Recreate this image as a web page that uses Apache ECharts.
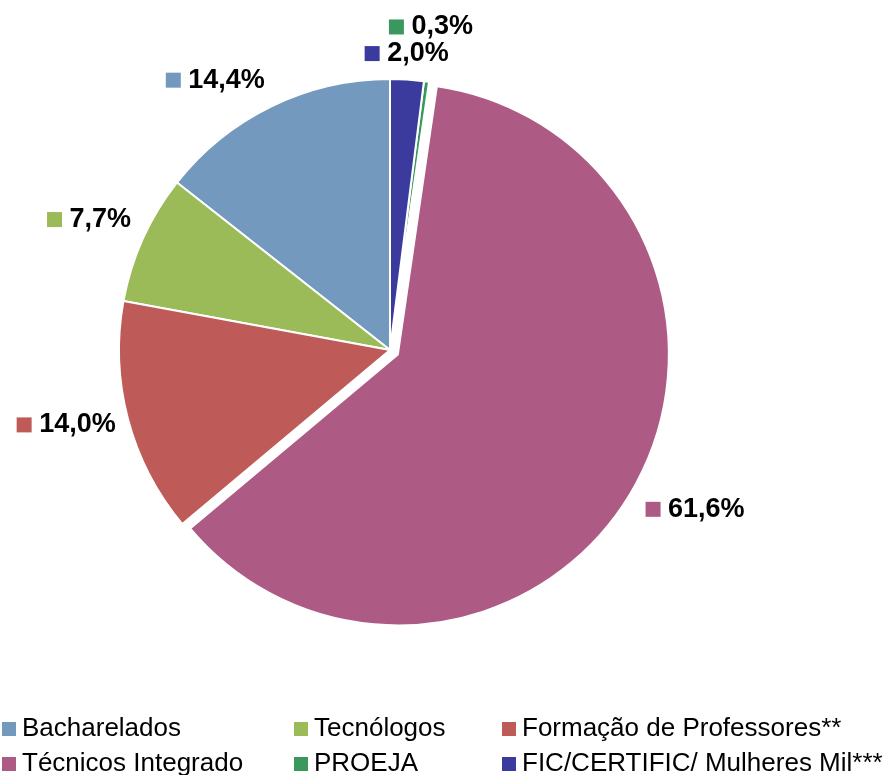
<!DOCTYPE html>
<html>
<head>
<meta charset="UTF-8">
<title>Matrículas por tipo de curso</title>
<script src="https://cdn.jsdelivr.net/npm/echarts@6/dist/echarts.min.js"></script>
<style>
  html, body { margin: 0; padding: 0; background: #fff; }
  #main { width: 882px; height: 775px; }
</style>
</head>
<body>
<div id="main"></div>
<script>
// dados (ordem da legenda)
var categorias = ['Bacharelados', 'Tecnólogos', 'Formação de Professores**',
  'Técnicos Integrado', 'PROEJA', 'FIC/CERTIFIC/ Mulheres Mil***'];
var percentuais = [14.4, 7.7, 14.0, 61.6, 0.3, 2.0];

var cores = ['#7399BE', '#9BBB59', '#BE5B58', '#AD5A85', '#3A985F', '#3B3B9E'];
// ajuste dos rótulos (comprimento da linha guia, oculta)
var guia1 = [29, 46, 23, 47, 55, 26];
var guia2 = [-6, -30, -10, -30, -45, -44];

var rich = {};
cores.forEach(function (c, i) {
  rich['s' + i] = { width: 15, height: 15, backgroundColor: c };
});
rich.v = { fontSize: 27, lineHeight: 24, fontWeight: 'bold', color: '#000', fontFamily: 'Liberation Sans, Arial, sans-serif' };

var dados = categorias.map(function (nome, i) {
  return {
    name: nome,
    value: percentuais[i],
    selected: nome === 'Técnicos Integrado',
    itemStyle: { color: cores[i] },
    labelLine: { show: false, length: guia1[i], length2: guia2[i] }
  };
});

var legendaBase = {
  orient: 'vertical',
  top: 716,
  height: 120,
  padding: 0,
  itemGap: 9,
  itemWidth: 16,
  itemHeight: 16,
  icon: 'rect',
  selectedMode: false,
  textStyle: { fontSize: 26, lineHeight: 26, color: '#000', fontFamily: 'Liberation Sans, Arial, sans-serif' }
};

var chart = echarts.init(document.getElementById('main'));
chart.setOption({
  animation: false,
  legend: [
    Object.assign({}, legendaBase, { left: 0, data: [categorias[0], categorias[3]] }),
    Object.assign({}, legendaBase, { left: 292, data: [categorias[1], categorias[4]] }),
    Object.assign({}, legendaBase, { left: 500, data: [categorias[2], categorias[5]] })
  ],
  series: [{
    type: 'pie',
    center: [390, 350],
    radius: 271,
    startAngle: 90,
    clockwise: false,
    avoidLabelOverlap: false,
    selectedMode: 'single',
    selectedOffset: 9,
    itemStyle: { borderColor: '#fff', borderWidth: 2 },
    emphasis: { disabled: true },
    labelLayout: { hideOverlap: false },
    label: {
      position: 'outside',
      distanceToLabelLine: 0,
      formatter: function (p) {
        return '{s' + p.dataIndex + '|}{v| ' + p.value.toFixed(1).replace('.', ',') + '%}';
      },
      rich: rich
    },
    data: dados
  }]
});
</script>
</body>
</html>
